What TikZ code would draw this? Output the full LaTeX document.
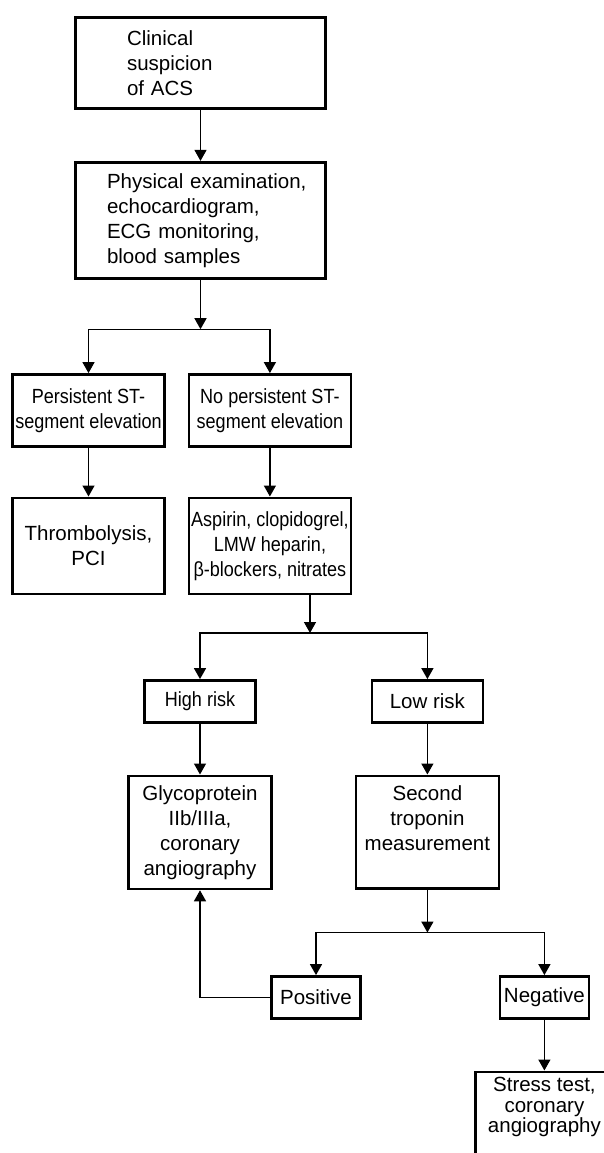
\documentclass[tikz,border=0pt]{standalone}
\usepackage{fontspec}
\setmainfont{Liberation Sans}
\newfontfamily\narrowfont[FakeStretch=0.88]{Liberation Sans}
\usetikzlibrary{arrows.meta,positioning}
\tikzset{
block/.style={
  rectangle,
  draw,
  line width=2.8pt,
  align=center,
  inner sep=0pt,
  font=\fontsize{20.5}{25}\selectfont},
narrow/.style={font=\fontsize{20.5}{25}\narrowfont},
topbox/.style={
  inner ysep=#1,
  align=center},
line/.style={draw, line width=1.4pt, -{Triangle[length=11pt,width=12pt]}}
}

\begin{document}
\begin{tikzpicture}[x=1pt, y=-1pt]
    \path [use as bounding box, clip] (0,0) rectangle (604,1153);
    \node [block, align=left, text width=147pt, minimum width=250pt, minimum height=91pt] (susp) at (200.5,63) {Clinical\\suspicion\\of ACS};
    \node [block, align=left, text width=187pt, minimum width=250pt, minimum height=116pt, below=51pt of susp] (exam) {\mbox{Physical examination,}\\echocardiogram,\\ECG monitoring,\\blood samples};
    \coordinate [below=49.5pt of exam] (split1);
    \node [block, narrow, minimum width=152pt, minimum height=72pt] (pst) at (88.5,410.5) {Persistent ST-\\segment elevation};
    \node [block, narrow, minimum width=162pt, minimum height=72pt, right=21.6pt of pst] (nopst) {No persistent ST-\\segment elevation};
    \node [block, minimum width=152pt, minimum height=96pt, below=48.6pt of pst] (thromb) {Thrombolysis,\\PCI};
    \node [block, narrow, minimum width=162pt, minimum height=96pt, below=48.6pt of nopst] (asp) {Aspirin, clopidogrel,\\LMW heparin,\\β-blockers, nitrates};
    \coordinate (split2) at (310,633);
    \node [block, narrow, minimum width=111pt, minimum height=42pt] (high) at (200,701.5) {High risk};
    \node [block, minimum width=111pt, minimum height=42pt, right=113.6pt of high] (low) {Low risk};
    \node [block, minimum width=143pt, minimum height=113pt, below=50.6pt of high] (glyco) {Glycoprotein\\IIb/IIIa,\\coronary\\angiography};
    \node [block, topbox=9.7pt, text depth=78.7pt, minimum width=143pt, below=50.6pt of low] (tropo) {\parbox[t]{140pt}{\centering Second\\troponin\\measurement}};
    \coordinate [below=42.3pt of tropo] (split3);
    \node [block, minimum width=89pt, minimum height=42pt] (pos) at (316,997.5) {Positive};
    \node [block, minimum width=89pt, minimum height=42pt, right=136.6pt of pos] (neg) {Negative};
    \node [block, topbox=5.7pt, text depth=90pt, minimum width=137.4pt, below=50.6pt of neg] (stress) {\parbox[t]{134pt}{\centering\fontsize{20.5}{20.5}\selectfont Stress test,\\coronary\\angiography}};
    % connectors
    \path [line] (susp) -- (exam);
    \path [line] (exam) -- (split1);
    \path [line] (split1) -| (pst);
    \path [line] (split1) -| (nopst);
    \path [line] (pst) -- (thromb);
    \path [line] (nopst) -- (asp);
    \path [line] (split2 |- asp.south) -- (split2);
    \path [line] (split2) -| (high);
    \path [line] (split2) -| (low);
    \path [line] (high) -- (glyco);
    \path [line] (low) -- (tropo);
    \path [line] (tropo) -- (split3);
    \path [line] (split3) -| (pos);
    \path [line] (split3) -| (neg);
    \path [line] (pos) -| (glyco);
    \path [line] (neg) -- (stress);
\end{tikzpicture}
\end{document}
